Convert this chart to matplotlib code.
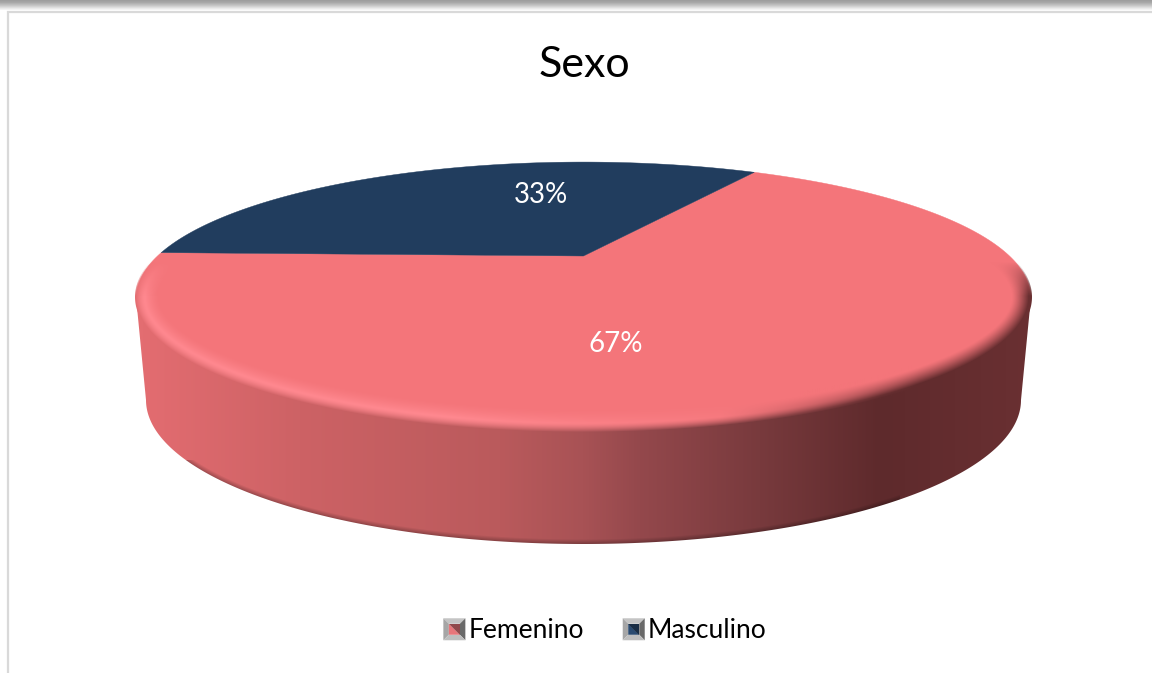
import numpy as np
import matplotlib
matplotlib.use("Agg")
import matplotlib.pyplot as plt
from matplotlib.patches import Polygon, Patch
from matplotlib.legend_handler import HandlerBase

plt.rcParams['font.family'] = ['Lato', 'DejaVu Sans']

# ---- data
categories = ["Femenino", "Masculino"]
shares = [67, 33]
share_labels = ["67%", "33%"]
title_text = "Sexo"

# ---- style
top_colors = ["#F4757A", "#213D5E"]
W, H = 1152, 673
START = 178.4
CX, CY = 583.5, 256.0          # apex of the pie in pixels
A0, B0, K = 426.0, 122.5, 0.304  # perspective of the top disc
ELL_Y, ELL_A, ELL_B = 297.0, 447.5, 135.0
BOT_Y, BOT_A, BOT_B = 400.0, 437.5, 144.0


def project(r, deg):
    t = np.radians(deg)
    u, v = r * np.cos(t), r * np.sin(t)
    w = 1 + K * v
    return CX + A0 * u / w, CY - B0 * v / w


fig = plt.figure(figsize=(W / 100, H / 100), dpi=100, facecolor="white")
ax = fig.add_axes([0, 0, 1, 1])
ax.set_xlim(0, W)
ax.set_ylim(H, 0)
ax.axis("off")

yy, xx = np.mgrid[0:H, 0:W] + 0.5
ext = (0, W, H, 0)

# ---- window chrome
band = np.ones((12, 1, 4))
shade = np.interp(np.arange(12), [0, 2, 5, 8, 10, 11], [.62, .66, .78, .92, 1, 1])
band[:, 0, :3] = shade[:, None]
ax.imshow(band, extent=(0, W, 12, 0), aspect="auto", interpolation="bilinear", zorder=1)
ax.set_xlim(0, W)
ax.set_ylim(H, 0)
ax.plot([8, 8, W], [H, 12, 12], color="#D9D9D9", lw=1.6, zorder=2, solid_joinstyle="miter")

# ---- side wall with horizontal gradient
gx = [136, 150, 300, 500, 583, 640, 760, 880, 1031]
gr = [228, 226, 205, 186, 168, 148, 120, 94, 106]
gg = [110, 108, 98, 90, 82, 72, 58, 42, 48]
gb = [114, 112, 101, 92, 85, 76, 61, 44, 50]


def wall_rgb(x):
    return np.stack([np.interp(x, gx, gr), np.interp(x, gx, gg), np.interp(x, gx, gb)], -1) / 255


def ell_dist(x, y, cy, a, b):
    dx, dy = x - CX, y - cy
    r = np.sqrt((dx / a) ** 2 + (dy / b) ** 2) + 1e-9
    grad = np.sqrt((dx / a ** 2) ** 2 + (dy / b ** 2) ** 2) / r + 1e-9
    return (1 - r) / grad


wall = np.ones((H, W, 4))
wall[..., :3] = wall_rgb(xx)
d_bot = ell_dist(xx, yy, BOT_Y, BOT_A, BOT_B)
edge = (np.clip(1 - d_bot / 5, 0, 1) * (yy > BOT_Y + 60) * (xx < 900))[..., None]
wall[..., :3] = wall[..., :3] * (1 - 0.28 * edge)
im = ax.imshow(wall, extent=ext, aspect="auto", interpolation="nearest", zorder=3)
th = np.radians(np.linspace(0, 180, 240))
top_front = np.c_[CX + ELL_A * np.cos(th), ELL_Y + (ELL_B - 8) * np.sin(th)]
bot_front = np.c_[CX + BOT_A * np.cos(th[::-1]), BOT_Y + BOT_B * np.sin(th[::-1])]
wall_poly = Polygon(np.r_[top_front, bot_front], closed=True, transform=ax.transData,
                    fc="none", ec="none")
ax.add_patch(wall_poly)
im.set_clip_path(wall_poly)

# ---- top face, wedges built from the shares
fracs = np.array(shares) / sum(shares)
edges = START + 360 * np.r_[0, np.cumsum(fracs)]
for i, cat in enumerate(categories):
    ang = np.linspace(edges[i], edges[i + 1], 300)
    ex, ey = project(1.0, ang)
    ax.fill(np.r_[CX, ex], np.r_[CY, ey], color=top_colors[i], lw=0.3, zorder=4, label="_" + cat)

# ---- bevel on the rim of the top face
d_top = ell_dist(xx, yy, ELL_Y, ELL_A, ELL_B)
t = np.clip(1 - d_top / 24, 0, 1)
front = np.clip((yy - 262) / 34, 0, 1)
base = np.array([244, 117, 122]) / 255
light = np.array([255, 136, 143]) / 255
lit = np.clip((800 - xx) / 350, 0, 1)[..., None]
hi = base * (1 - lit) + light * lit
tt = t[..., None]
mid = np.clip(tt / 0.62, 0, 1) ** 1.5
rim = base * (1 - mid) + hi * mid
mix = np.clip((tt - 0.62) / 0.38, 0, 1) ** 1.6
rim = rim * (1 - mix) + wall_rgb(xx) * mix
# on the dark side the blend to the wall starts earlier
dark = np.clip((xx[..., None] - 720) / 200, 0, 1)
mix2 = np.clip((tt - 0.2) / 0.7, 0, 1) ** 1.3
rim = rim * (1 - dark) + (base * (1 - mix2) + wall_rgb(xx) * mix2) * dark
over = np.zeros((H, W, 4))
over[..., :3] = rim
over[..., 3] = np.where(d_top >= -2, np.where(t > 0, 1.0, 0.0) * front, 0)
im2 = ax.imshow(over, extent=ext, aspect="auto", interpolation="nearest", zorder=5)
ell_t = np.radians(np.linspace(0, 360, 500))
top_poly = Polygon(np.c_[CX + (ELL_A + 1) * np.cos(ell_t), ELL_Y + (ELL_B + 1) * np.sin(ell_t)],
                   closed=True, transform=ax.transData, fc="none", ec="none")
ax.add_patch(top_poly)
im2.set_clip_path(top_poly)
ax.set_xlim(0, W)
ax.set_ylim(H, 0)

# ---- labels
ax.text(616, 344, share_labels[0], color="white", fontsize=20, ha="center", va="center", zorder=6)
ax.text(541, 195, share_labels[1], color="white", fontsize=20, ha="center", va="center", zorder=6)
ax.text(584, 65, title_text, color="black", fontsize=31, ha="center", va="center", zorder=6)


# ---- legend with bevelled keys
class BevelKey(HandlerBase):
    def create_artists(self, legend, orig, xd, yd, width, height, fontsize, trans):
        s = 22.0 * 72 / 100
        x0 = xd * -1 + (width - s) / 2
        y0 = -yd + (height - s) / 2
        b = 5.5 * 72 / 100
        o = [(x0, y0), (x0 + s, y0), (x0 + s, y0 + s), (x0, y0 + s)]
        n = [(x0 + b, y0 + b), (x0 + s - b, y0 + b), (x0 + s - b, y0 + s - b), (x0 + b, y0 + s - b)]
        col = orig.get_facecolor()
        dark_col = tuple(0.62 * c for c in col[:3])
        arts = [
            Polygon([o[3], o[2], n[2], n[3]], fc="#C4C4C4", ec="none"),
            Polygon([o[0], o[3], n[3], n[0]], fc="#A6A6A6", ec="none"),
            Polygon([o[1], o[2], n[2], n[1]], fc="#6A6A6A", ec="none"),
            Polygon([o[0], o[1], n[1], n[0]], fc="#BEBEBE", ec="none"),
            Polygon([n[0], n[1], n[3]], fc=col, ec="none"),
            Polygon([n[1], n[2], n[3]], fc=dark_col, ec="none"),
        ]
        for p in arts:
            p.set_transform(trans)
        return arts


handles = [Patch(facecolor=c, label=n) for c, n in zip(["#E8757A", "#2A4A70"], categories)]
ax.legend(handles=handles, handler_map={Patch: BevelKey()}, ncol=2, frameon=False,
          fontsize=19, loc="center", bbox_to_anchor=(605 / W, 1 - 631 / H),
          bbox_transform=fig.transFigure, handlelength=0.85, handletextpad=0.12,
          columnspacing=1.45, labelcolor="black", borderpad=0, borderaxespad=0)

fig.savefig("out.png", dpi=100)
